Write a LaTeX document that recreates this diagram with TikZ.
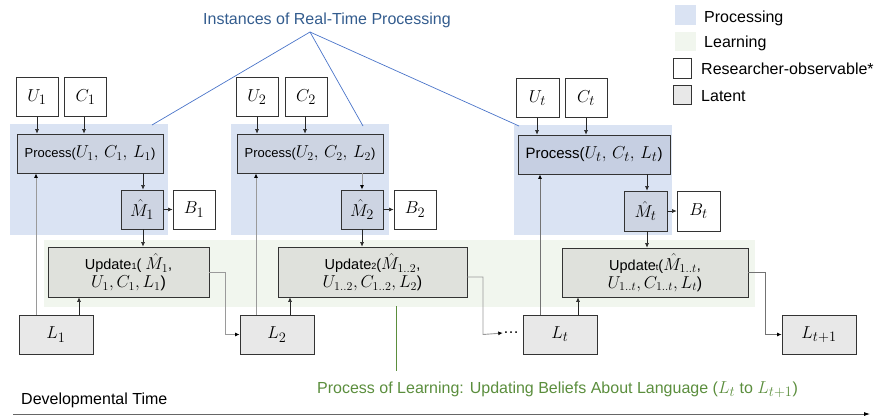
\documentclass[tikz,border=0pt]{standalone}
\usepackage{fontspec}
\setmainfont{Liberation Sans}
\usetikzlibrary{arrows.meta}
\DeclareMathSizes{17}{18}{13.5}{10}
\DeclareMathSizes{16}{16.5}{12.5}{9}
\DeclareMathSizes{15}{16}{12}{9}
\DeclareMathSizes{13}{14.5}{11}{8}
\DeclareMathSizes{14.5}{16}{12}{9}
\definecolor{bgblue}{HTML}{DAE3F3}
\definecolor{bggreen}{HTML}{F1F6EE}
\definecolor{procfill}{HTML}{CDD4E2}
\definecolor{proctfill}{HTML}{C6CFE2}
\definecolor{updfill}{HTML}{DFE1DC}
\definecolor{latfill}{HTML}{E8E8E8}
\definecolor{titleblue}{HTML}{335C8E}
\definecolor{leadblue}{HTML}{4A74C9}
\definecolor{learngreen}{HTML}{5B8E3D}
\definecolor{linegray}{HTML}{9A9A9A}
\newcommand\myfs[1]{\fontsize{#1}{#1}\selectfont}
\begin{document}
\begin{tikzpicture}[x=1pt,y=-1pt,
  box/.style={draw=black!80, line width=0.8pt, inner sep=0pt, minimum height=39pt, align=center},
  obsbox/.style={box, fill=white, minimum width=42pt, font=\myfs{17}},
  procbox/.style={box, fill=procfill, minimum width=146pt, font=\myfs{13}},
  mbox/.style={box, fill=procfill, minimum width=42pt, font=\myfs{17}},
  updbox/.style={box, fill=updfill, minimum height=50pt, font=\fontsize{14.5}{18}\selectfont},
  latbox/.style={box, fill=latfill, minimum width=74pt, font=\myfs{17}},
  arr/.style={draw=black!85, line width=0.6pt, -{Latex[length=4.5pt,width=4pt]}},
  garr/.style={draw=linegray, line width=0.9pt, -{Latex[length=4.5pt,width=4pt,fill=black,color=black]}},
  lead/.style={draw=leadblue, line width=0.7pt},
  lbl/.style={inner sep=0pt, anchor=base west, font=\myfs{16}}
]
\useasboundingbox (0,0) rectangle (882,416);
% backgrounds
\fill[bgblue] (10,124) rectangle (168,235);
\fill[bgblue] (231,124) rectangle (389,235);
\fill[bgblue] (514,125) rectangle (672,235);
\fill[bggreen] (44,240) rectangle (755,307);

% legend
\fill[bgblue] (675,5) rectangle (696,25);
\fill[bggreen] (675,32) rectangle (696,51);
\draw[black!80, line width=0.8pt, fill=white] (673,58) rectangle (691,78);
\draw[black!80, line width=0.8pt, fill=latfill] (673,85) rectangle (691,104);
\node[lbl] (lgp) at (704,22.5) {Processing};
\node[lbl] (lgl) at (704,47.5) {Learning};
\node[lbl] (lgr) at (701,74) {Researcher-observable*};
\node[lbl] (lgt) at (701,101) {Latent};

% title
\node[lbl, text=titleblue] (title) at (203,24) {Instances of Real-Time Processing};
\coordinate (apex) at (310,32);
\coordinate (b1) at (152,125);
\coordinate (b2) at (363,126);
\coordinate (b3) at (519,126);
\draw[lead] (apex) -- (b1);
\draw[lead] (apex) -- (b2);
\draw[lead] (apex) -- (b3);

% column 1
\node[obsbox] (U1) at (37,97) {$U_1$};
\node[obsbox] (C1) at (85.5,97) {$C_1$};
\node[procbox] (P1) at (90,153.5) {Process({\myfs{15}$U_1,\, C_1,\, L_1$})};
\node[mbox] (M1) at (142,209.5) {$\hat{M}_1$};
\node[obsbox] (B1) at (194,209.5) {$B_1$};
\node[updbox, minimum width=161pt] (UP1) at (128.5,272) {Update{\myfs{9}1}( {\myfs{16}$\hat{M}_1$},\\{\myfs{16}$U_1, C_1, L_1$)}};
\node[latbox] (L1) at (56,334.5) {$L_1$};

% column 2
\node[obsbox] (U2) at (257,97) {$U_2$};
\node[obsbox] (C2) at (306,97) {$C_2$};
\node[procbox] (P2) at (310,153.5) {Process({\myfs{15}$U_2,\, C_2,\, L_2$})};
\node[mbox] (M2) at (362,209.5) {$\hat{M}_2$};
\node[obsbox] (B2) at (415,209.5) {$B_2$};
\node[updbox, minimum width=189pt] (UP2) at (372.5,272) {Update{\myfs{9}2}({\myfs{16}$\hat{M}_{1..2}$},\\{\myfs{16}$U_{1..2}, C_{1..2}, L_2$)}};
\node[latbox] (L2) at (277,334.5) {$L_2$};

% column t
\node[obsbox, minimum width=43pt] (Ut) at (537.5,98) {$U_t$};
\node[obsbox, minimum width=42pt] (Ct) at (586,98) {$C_t$};
\node[procbox, fill=proctfill, minimum width=152pt, font=\myfs{15}] (Pt) at (594,154.5) {Process({\myfs{17}$U_t,\, C_t,\, L_t$})};
\node[mbox, minimum width=43pt, minimum height=40pt] (Mt) at (645.5,211) {$\hat{M}_t$};
\node[obsbox, minimum width=43pt, minimum height=40pt] (Bt) at (698.5,211) {$B_t$};
\node[updbox, minimum width=186pt, minimum height=49pt] (UPt) at (655,272.5) {Update{\myfs{9}t}({\myfs{16}$\hat{M}_{1..t}$},\\{\myfs{16}$U_{1..t}, C_{1..t}, L_t$)}};
\node[latbox] (Lt) at (560,334.5) {$L_t$};
\node[latbox] (Lt1) at (819,334.5) {$L_{t+1}$};
\node[inner sep=0pt, font=\myfs{16}] (dots) at (511,333) {…};

% arrows column 1
\draw[arr] (U1.south) -- (U1.south |- P1.north);
\draw[arr] (C1.south -| 84,0) -- (84,0 |- P1.north);
\draw[arr] (P1.south -| 143,0) -- (143,0 |- M1.north);
\draw[arr] (M1.east) -- (B1.west);
\draw[arr] (M1.south -| 143,0) -- (143,0 |- UP1.north);
\draw[arr] (L1.north -| 79,0) -- (79,0 |- UP1.south);
\draw[garr] (L1.north -| 36,0) -- (36,0 |- P1.south);
\draw[garr] (UP1.east |- 0,272) -- (225,272) -- (225,334.5) -- (L2.west);

% arrows column 2
\draw[arr] (U2.south -| 257,0) -- (257,0 |- P2.north);
\draw[arr] (C2.south -| 305,0) -- (305,0 |- P2.north);
\draw[garr] (P2.south -| 362,0) -- (362,0 |- M2.north);
\draw[arr] (M2.east) -- (B2.west);
\draw[arr] (M2.south -| 362,0) -- (362,0 |- UP2.north);
\draw[arr] (L2.north -| 290,0) -- (290,0 |- UP2.south);
\draw[garr] (L2.north -| 256,0) -- (256,0 |- P2.south);
\draw[garr] (UP2.east |- 0,277) -- (483,277) -- (483,334.5) -- (dots.west);

% arrows column t
\draw[arr] (Ut.south -| 537,0) -- (537,0 |- Pt.north);
\draw[arr] (Ct.south -| 586,0) -- (586,0 |- Pt.north);
\draw[arr] (Pt.south -| 647,0) -- (647,0 |- Mt.north);
\draw[arr] (Mt.east) -- (Bt.west);
\draw[arr] (Mt.south -| 647,0) -- (647,0 |- UPt.north);
\draw[arr] (Lt.north -| 578,0) -- (578,0 |- UPt.south);
\draw[garr, draw=black!55] (Lt.north -| 540,0) -- (540,0 |- Pt.south);
\draw[garr, draw=black!55] (UPt.east |- 0,272) -- (765,272) -- (765,334.5) -- (Lt1.west);

% learning label
\coordinate (gtop) at (396,306);
\coordinate (gbot) at (396,371);
\draw[learngreen, line width=0.9pt] (gtop) -- (gbot);
\node[lbl, text=learngreen] (learn) at (317,393.5) {Process of Learning: Updating Beliefs About Language ({\myfs{17}$L_t$} to {\myfs{17}$L_{t+1}$})};

% time axis
\node[lbl] (dev) at (21,404) {Developmental Time};
\coordinate (ax0) at (13,414);
\coordinate (ax1) at (870,414);
\draw[black!60, line width=0.8pt, -{Latex[length=6pt,width=4pt,color=black]}] (ax0) -- (ax1);
\end{tikzpicture}
\end{document}
